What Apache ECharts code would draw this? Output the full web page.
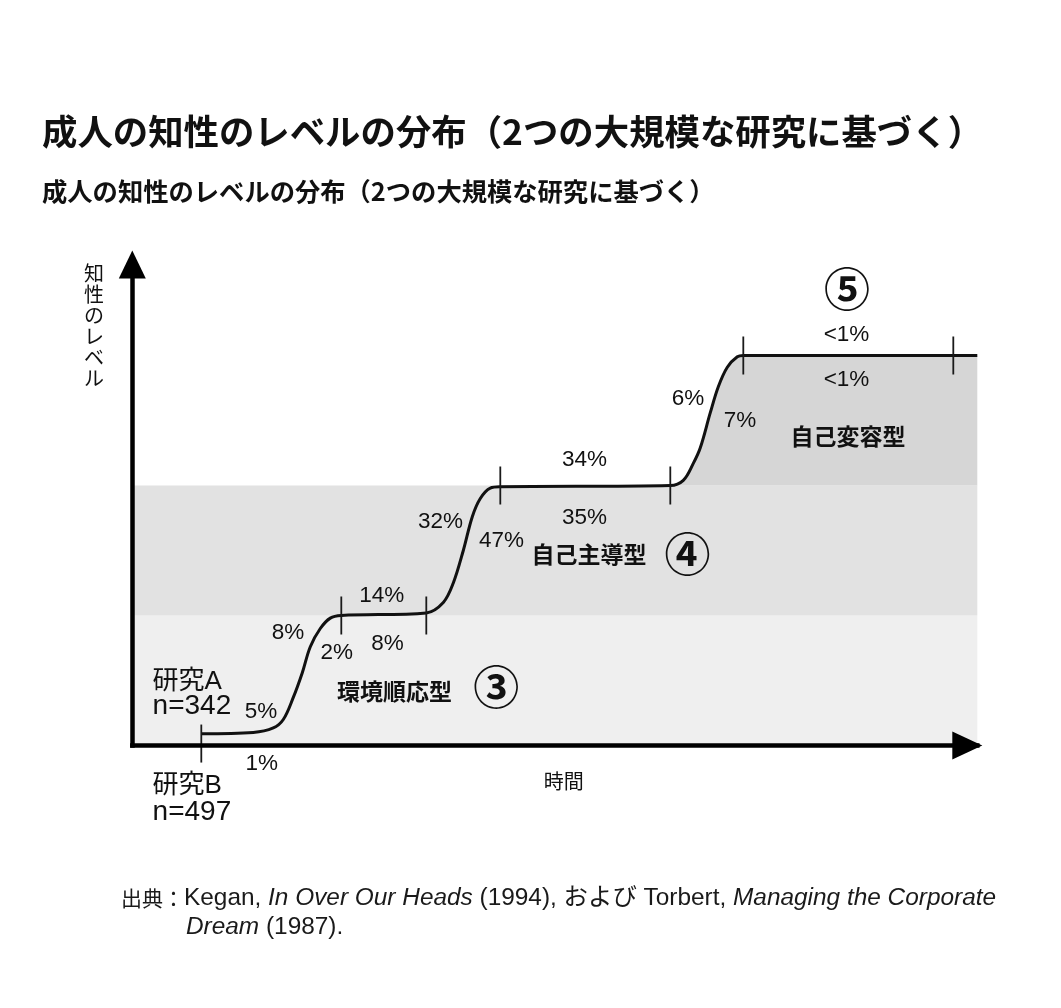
<!DOCTYPE html>
<html><head><meta charset="utf-8">
<script src="https://cdn.jsdelivr.net/npm/echarts@6/dist/echarts.min.js"></script>
<style>html,body{margin:0;padding:0;background:#fff}#c{width:1061px;height:1008px}</style>
</head><body><div id="c"></div>
<script>
// ---------- data ----------
const titleText = '成人の知性のレベルの分布（2つの大規模な研究に基づく）';
const subtitleText = '成人の知性のレベルの分布（2つの大規模な研究に基づく）';
const xAxisName = '時間';
const yAxisName = '知性のレベル';
// development curve: time vs. level (level 0..3, each unit = one stage band)
const curveTime  = [6.9, 12.1, 14.1, 15.1, 16.1, 17.0, 17.8, 18.8, 19.8, 20.9, 29.4, 31.1, 32.1, 33.1, 34.0, 34.8, 35.8, 36.8, 53.8, 55.1, 56.1, 56.8, 57.8, 58.6, 59.5, 60.5, 61.1, 84.5];
const curveLevel = [0.09, 0.10, 0.135, 0.20, 0.37, 0.56, 0.76, 0.90, 0.98, 1.00, 1.02, 1.10, 1.25, 1.50, 1.76, 1.90, 1.98, 1.99, 2.00, 2.04, 2.17, 2.29, 2.56, 2.76, 2.91, 2.99, 3.00, 3.00];
// stage boundaries (tick marks on the curve)
const boundaryTime  = [6.9, 20.9, 29.4, 36.8, 53.8, 61.1, 82.1];
const boundaryLevel = [0.015, 1.0, 1.0, 2.0, 2.0, 3.0, 3.0];
// stage bands
const bandLevels = [[0, 1], [1, 2]];
const topBandFrom = 53.8;  // 自己変容型 area under the curve from here
const stageNames   = ['環境順応型', '自己主導型', '自己変容型'];
const stageNumbers = ['③', '④', '⑤'];
// study percentages (A above curve, B below)
const studyA = ['5%', '8%', '14%', '32%', '34%', '6%', '<1%'];
const studyB = ['1%', '2%', '8%', '47%', '35%', '7%', '<1%'];
const studyNames = ['研究A', '研究B'];
const studyN = ['n=342', 'n=497'];
const sourceLine1 = '{j|出典：}Kegan, {i|In Over Our Heads} (1994), および Torbert, {i|Managing the Corporate}';
const sourceLine2 = '{i|Dream} (1987).';

// ---------- layout (label anchors in axis units) ----------
const posA = [[12.87, 0.262], [15.57, 0.865], [24.94, 1.154], [30.82, 1.719], [45.22, 2.196], [55.57, 2.669], [71.42, 3.158]];
const posB = [[12.94, -0.142], [20.44, 0.715], [25.52, 0.785], [36.92, 1.577], [45.22, 1.75], [60.77, 2.496], [71.42, 2.812]];
const posStageName = [[26.22, 0.419], [45.67, 1.469], [71.57, 2.377]];
const posStageNum  = [[36.4, 0.453], [55.52, 1.477], [71.47, 3.519]];
const posStudy = [[[1.98, 0.49], [1.98, 0.305]], [[1.98, -0.312], [1.98, -0.512]]];

const FONT = "'Liberation Sans', 'Noto Sans CJK JP', sans-serif";
const CJK = "'Noto Sans CJK JP', 'Liberation Sans', sans-serif";
const INK = '#111';

const curve = curveTime.map((t, i) => [t, curveLevel[i]]);
const topCurve = curve.filter(p => p[0] >= topBandFrom);

const ann = [];
function addLabel(pos, text, style, position) {
  ann.push({
    value: pos,
    label: Object.assign({ show: true, formatter: text, position: position || 'inside', distance: 0,
      color: INK, opacity: 1, fontFamily: FONT, fontSize: 22.5 }, style)
  });
}
studyA.forEach((s, i) => addLabel(posA[i], s, {}));
studyB.forEach((s, i) => addLabel(posB[i], s, {}));
stageNames.forEach((s, i) => addLabel(posStageName[i], s, { fontFamily: CJK, fontWeight: 'bold', fontSize: 23 }));
stageNumbers.forEach((s, i) => addLabel(posStageNum[i], s, { fontFamily: CJK, fontWeight: 'bold', fontSize: 46 }));
studyNames.forEach((s, i) => {
  addLabel(posStudy[i][0], s, { fontSize: 26 }, 'right');
  addLabel(posStudy[i][1], studyN[i], { fontSize: 28 }, 'right');
});

const chart = echarts.init(document.getElementById('c'), null, { renderer: 'canvas' });
chart.setOption({
  animation: false,
  backgroundColor: '#fff',
  grid: { left: 132.3, top: 264.5, width: 845, height: 481, containLabel: false },
  xAxis: {
    type: 'value', min: 0, max: 84.5, z: 10,
    name: xAxisName, nameLocation: 'middle', nameGap: 26,
    nameTextStyle: { color: INK, fontFamily: CJK, fontSize: 20, padding: [0, 0, 0, 18] },
    axisLine: { show: true, onZero: false, symbol: ['none', 'triangle'], symbolSize: [28, 30], symbolOffset: [0, -10],
      lineStyle: { color: '#000', width: 4.5, cap: 'square' } },
    axisTick: { show: false }, axisLabel: { show: false }, splitLine: { show: false }
  },
  yAxis: {
    type: 'value', min: 0, max: 3.7, z: 10,
    axisLine: { show: true, onZero: false, symbol: ['none', 'triangle'], symbolSize: [27, 28],
      lineStyle: { color: '#000', width: 4.5, cap: 'square' } },
    axisTick: { show: false }, axisLabel: { show: false }, splitLine: { show: false }
  },
  graphic: [
    { type: 'text', left: 42, top: 114, style: { text: titleText, font: "bold 35.4px " + CJK, fill: '#111' } },
    { type: 'text', left: 42, top: 179, style: { text: subtitleText, font: "bold 25.3px " + CJK, fill: '#111' } },
    { type: 'text', left: 84, top: 263, style: { text: yAxisName.split('').join('\n'), font: "20px " + CJK, lineHeight: 21, fill: INK, align: 'center' } },
    { type: 'text', left: 121, top: 886, style: { text: sourceLine1, font: "24.4px " + FONT, fill: '#1a1a1a',
        rich: { i: { fontStyle: 'italic', fontSize: 24.4, fontFamily: FONT }, j: { fontSize: 21, fontFamily: CJK } } } },
    { type: 'text', left: 186, top: 915, style: { text: sourceLine2, font: "24.4px " + FONT, fill: '#1a1a1a',
        rich: { i: { fontStyle: 'italic', fontSize: 24.4, fontFamily: FONT } } } }
  ],
  series: [
    {
      name: 'bands', type: 'line', data: [], silent: true, z: 1,
      markArea: {
        silent: true,
        data: [
          [{ yAxis: bandLevels[0][0], itemStyle: { color: '#efefef' } }, { yAxis: bandLevels[0][1] }],
          [{ yAxis: bandLevels[1][0], itemStyle: { color: '#e2e2e2' } }, { yAxis: bandLevels[1][1] }]
        ]
      }
    },
    {
      name: 'topBand', type: 'line', data: topCurve, smooth: 0.35, showSymbol: false, silent: true, z: 2,
      lineStyle: { width: 0 }, areaStyle: { color: '#d6d6d6', origin: 2, opacity: 1 }
    },
    {
      name: 'curve', type: 'line', data: curve, smooth: 0.35, showSymbol: false, silent: true, z: 5,
      lineStyle: { color: '#111', width: 3 }
    },
    {
      name: 'boundaries', type: 'scatter', silent: true, z: 6, clip: false,
      data: boundaryTime.map((t, i) => [t, boundaryLevel[i]]),
      symbol: 'rect', symbolSize: [1.8, 38], itemStyle: { color: '#1a1a1a', opacity: 1 }
    },
    {
      name: 'annotations', type: 'scatter', silent: true, z: 7, clip: false,
      data: ann, symbolSize: 1, itemStyle: { color: 'rgba(0,0,0,0)', opacity: 1 }
    }
  ]
});
</script></body></html>
